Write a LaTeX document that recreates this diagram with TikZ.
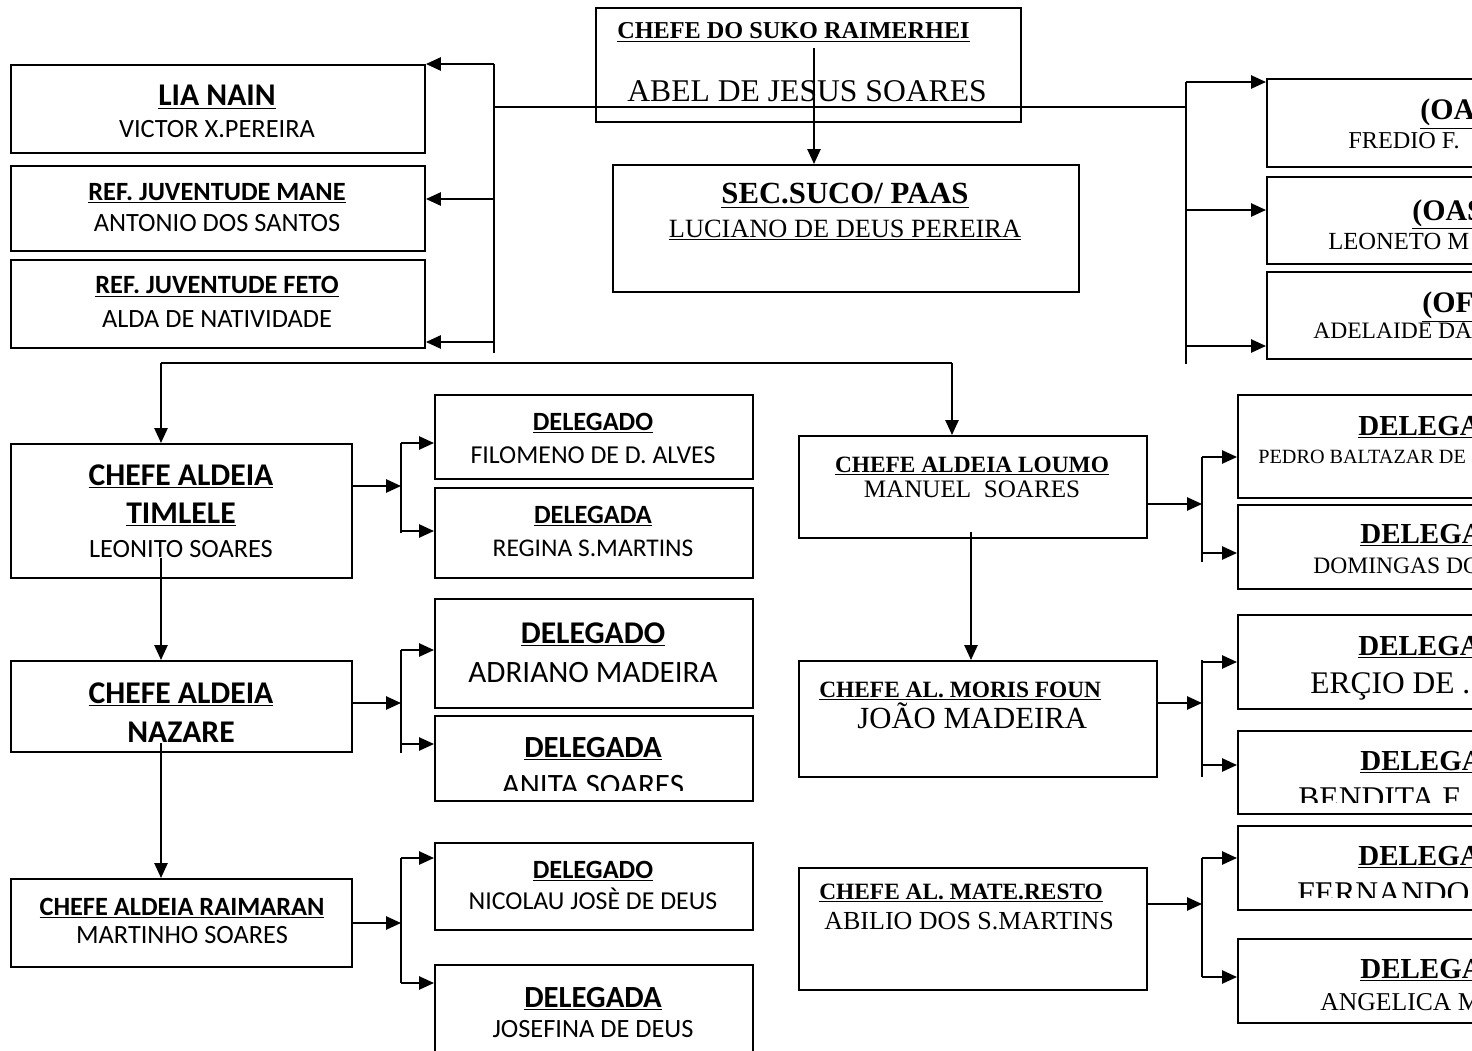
\documentclass[tikz,border=0pt]{standalone}
\usepackage{fontspec}
\setmainfont{Liberation Serif}
\newfontfamily\calibri{Carlito}
\usetikzlibrary{arrows.meta, calc}

\tikzset{
  box/.style 2 args={draw, line width=1.1pt, inner sep=0pt, anchor=north west,
    minimum width=#1*0.02cm, minimum height=#2*0.02cm},
  wire/.style={line width=1.1pt},
  arr/.style={wire, -{Triangle[length=8.5pt,width=7.5pt]}},
  cb/.style={anchor=base, inner sep=0pt, font={\calibri\bfseries\fontsize{#1}{#1}\selectfont}},
  cr/.style={anchor=base, inner sep=0pt, font={\calibri\fontsize{#1}{#1}\selectfont}},
  tb/.style={anchor=base, inner sep=0pt, font={\bfseries\fontsize{#1}{#1}\selectfont}},
  tr/.style={anchor=base, inner sep=0pt, font={\fontsize{#1}{#1}\selectfont}},
}

\begin{document}
\begin{tikzpicture}[x=0.02cm, y=-0.02cm]
\clip (0,0) rectangle (1472,1051);

% boxes, top row
\node[box={414}{88}] (lia) at (10,64) {};
\node[box={414}{85}] (mane) at (10,165) {};
\node[box={414}{88}] (feto) at (10,259) {};
\node[box={425}{114}] (suko) at (595,7) {};
\node[box={466}{127}] (sec) at (612,164) {};
\node[box={240}{88}] (oa) at (1266,78) {};
\node[box={240}{87}] (oas) at (1266,176) {};
\node[box={240}{87}] (of) at (1266,271) {};

% boxes, aldeias
\node[box={341}{134}] (timlele) at (10,443) {};
\node[box={341}{91}] (nazare) at (10,660) {};
\node[box={341}{88}] (raimaran) at (10,878) {};
\node[box={348}{102}] (loumo) at (798,435) {};
\node[box={358}{116}] (moris) at (798,660) {};
\node[box={348}{122}] (mate) at (798,867) {};

% boxes, delegados
\node[box={318}{84}] (filomeno) at (434,394) {};
\node[box={318}{90}] (regina) at (434,487) {};
\node[box={318}{109}] (adriano) at (434,598) {};
\node[box={318}{85}] (anita) at (434,715) {};
\node[box={318}{87}] (nicolau) at (434,842) {};
\node[box={318}{110}] (josefina) at (434,964) {};
\node[box={270}{103}] (pedro) at (1237,394) {};
\node[box={270}{84}] (domingas) at (1237,504) {};
\node[box={270}{94}] (ercio) at (1237,614) {};
\node[box={270}{83}] (bendita) at (1237,730) {};
\node[box={270}{84}] (fernando) at (1237,825) {};
\node[box={270}{84}] (angelica) at (1237,938) {};

% texts, top row
\node[cb=18] (liaT) at (217,106) {\underline{LIA NAIN}};
\node[cr=15] (liaN) at (217,138) {VICTOR X.PEREIRA};
\node[cb=15] (maneT) at (217,200) {\underline{REF. JUVENTUDE MANE}};
\node[cr=15] (maneN) at (217,232) {ANTONIO DOS SANTOS};
\node[cb=15] (fetoT) at (217,294) {\underline{REF. JUVENTUDE FETO}};
\node[cr=15] (fetoN) at (217,327) {ALDA DE NATIVIDADE};
\node[tb=13.8, anchor=base west] (sukoT) at (617,39) {\underline{CHEFE DO SUKO RAIMERHEI}};
\node[tr=18, anchor=base west] (sukoN) at (627,102) {ABEL DE JESUS SOARES};
\node[tb=17.5] (secT) at (845,204) {\underline{SEC.SUCO/ PAAS}};
\node[tr=15] (secN) at (845,237) {\underline{LUCIANO DE DEUS PEREIRA}};
\node[tb=17, anchor=base west] (oaT) at (1420,120) {\underline{(OA}};
\node[tr=13.8, anchor=base west] (oaN) at (1348,149) {FREDIO F.};
\node[tb=17, anchor=base west] (oasT) at (1412,220) {\underline{(OAS}};
\node[tr=14, anchor=base west] (oasN) at (1328,250) {LEONETO M};
\node[tb=17, anchor=base west] (ofT) at (1422,313) {\underline{(OF}};
\node[tr=13.4, anchor=base west] (ofN) at (1313,338) {ADELAIDE DA};

% texts, aldeias
\node[cb=18] (timleleT) at (181,485) {\underline{CHEFE ALDEIA}};
\node[cb=18] (timleleU) at (181,523) {\underline{TIMLELE}};
\node[cr=15] (timleleN) at (181,557) {LEONITO SOARES};
\node[cb=18] (nazareT) at (181,703) {\underline{CHEFE ALDEIA}};
\node[cb=18] (nazareU) at (181,742) {NAZARE};
\node[cb=15] (raimaranT) at (182,915) {\underline{CHEFE ALDEIA RAIMARAN}};
\node[cr=15] (raimaranN) at (182,943) {MARTINHO SOARES};
\node[tb=13.3] (loumoT) at (972,472) {\underline{CHEFE ALDEIA LOUMO}};
\node[tr=14.3] (loumoN) at (972,497) {MANUEL\ \ SOARES};
\node[tb=13.3, anchor=base west] (morisT) at (819,697) {\underline{CHEFE AL. MORIS FOUN}};
\node[tr=17.5, anchor=base west] (morisN) at (857,728) {JOÃO MADEIRA};
\node[tb=13.3, anchor=base west] (mateT) at (819,899) {\underline{CHEFE AL. MATE.RESTO}};
\node[tr=14.8, anchor=base west] (mateN) at (824,929) {ABILIO DOS S.MARTINS};

% texts, delegados
\node[cb=15] (filomenoT) at (593,430) {\underline{DELEGADO}};
\node[cr=14.7] (filomenoN) at (593,463) {FILOMENO DE D. ALVES};
\node[cb=15] (reginaT) at (593,523) {\underline{DELEGADA}};
\node[cr=14.5] (reginaN) at (593,556) {REGINA S.MARTINS};
\node[cb=18] (adrianoT) at (593,643) {\underline{DELEGADO}};
\node[cr=17.7] (adrianoN) at (593,682) {ADRIANO MADEIRA};
\node[cb=17.5] (anitaT) at (593,757) {\underline{DELEGADA}};
\begin{scope}
\clip (434,700) rectangle (752,790);
\node[cr=17.7] (anitaN) at (593,795) {ANITA SOARES};
\end{scope}
\node[cb=15] (nicolauT) at (593,878) {\underline{DELEGADO}};
\node[cr=14.7] (nicolauN) at (593,909) {NICOLAU JOSÈ DE DEUS};
\node[cb=17.5] (josefinaT) at (593,1007) {\underline{DELEGADA}};
\node[cr=15] (josefinaN) at (593,1037) {JOSEFINA DE DEUS};

\node[tb=16.5, anchor=base west] (pedroT) at (1358,435) {\underline{DELEGA}};
\node[tr=11.5, anchor=base west] (pedroN) at (1258,463) {PEDRO BALTAZAR DE};
\node[tb=16.5, anchor=base west] (domingasT) at (1360,543) {\underline{DELEGA}};
\node[tr=13.4, anchor=base west] (domingasN) at (1313,573) {DOMINGAS DO};
\node[tb=16.5, anchor=base west] (ercioT) at (1358,655) {\underline{DELEGA}};
\node[tr=17.9, anchor=base west] (ercioN) at (1310,693) {ERÇIO DE .};
\node[tb=16.5, anchor=base west] (benditaT) at (1360,770) {\underline{DELEGA}};
\begin{scope}
\clip (1237,720) rectangle (1472,802);
\node[tr=18, anchor=base west] (benditaN) at (1298,808) {BENDITA F.};
\end{scope}
\node[tb=16.5, anchor=base west] (fernandoT) at (1358,865) {\underline{DELEGA}};
\begin{scope}
\clip (1237,820) rectangle (1472,897);
\node[tr=18, anchor=base west] (fernandoN) at (1297,903) {FERNANDO};
\end{scope}
\node[tb=16.5, anchor=base west] (angelicaT) at (1360,978) {\underline{DELEGA}};
\node[tr=14.6, anchor=base west] (angelicaN) at (1320,1010) {ANGELICA M};

% left bracket
\coordinate (lt) at (494,64);
\coordinate (lm) at (494,199);
\coordinate (lf) at (494,342);
\coordinate (lb) at (494,353);
\draw[wire] (lt) -- (lb);
\draw[arr] (lt) -- (lia.north east);
\draw[arr] (lm) -- (lm -| mane.east);
\draw[arr] (lf) -- (lf -| feto.east);

% main line and right bracket
\coordinate (ml) at (494,107);
\coordinate (mr) at (1186,107);
\draw[line width=0.9pt] (ml) -- (mr);
\coordinate (rt) at (1186,82);
\coordinate (rm) at (1186,210);
\coordinate (rf) at (1186,346);
\coordinate (rb) at (1186,364);
\draw[wire] (rt) -- (rb);
\draw[arr] (rt) -- (rt -| oa.west);
\draw[arr] (rm) -- (rm -| oas.west);
\draw[arr] (rf) -- (rf -| of.west);

% chefe to secretario
\coordinate (sk) at (814,48);
\draw[arr] (sk) -- (sk |- sec.north);

% aldeias
\coordinate (hl) at (161,363);
\coordinate (hr) at (952,363);
\draw[wire] (hl) -- (hr);
\draw[arr] (hl) -- (hl |- timlele.north);
\draw[arr] (hr) -- (hr |- loumo.north);
\coordinate (t1) at (161,558);
\draw[arr] (t1) -- (t1 |- nazare.north);
\coordinate (t2) at (161,743);
\draw[arr] (t2) -- (t2 |- raimaran.north);
\coordinate (t3) at (971,532);
\draw[arr] (t3) -- (t3 |- moris.north);

% delegados
\foreach \v/\up/\dn/\x/\ym/\yt/\yb/\yu/\yd in {
    timlele/filomeno/regina/401/486/443/533/443/531,
    nazare/adriano/anita/401/703/650/753/650/744,
    raimaran/nicolau/josefina/401/923/858/983/858/983,
    loumo/pedro/domingas/1202/504/457/562/457/553,
    moris/ercio/bendita/1202/703/660/777/662/765,
    mate/fernando/angelica/1202/904/858/977/858/977}{
  \coordinate (\v-m) at (\x,\ym);
  \coordinate (\v-t) at (\x,\yt);
  \coordinate (\v-b) at (\x,\yb);
  \coordinate (\v-u) at (\x,\yu);
  \coordinate (\v-d) at (\x,\yd);
  \draw[arr] (\v-m -| \v.east) -- (\v-m);
  \draw[wire] (\v-t) -- (\v-b);
  \draw[arr] (\v-u) -- (\v-u -| \up.west);
  \draw[arr] (\v-d) -- (\v-d -| \dn.west);
}

\end{tikzpicture}
\end{document}
